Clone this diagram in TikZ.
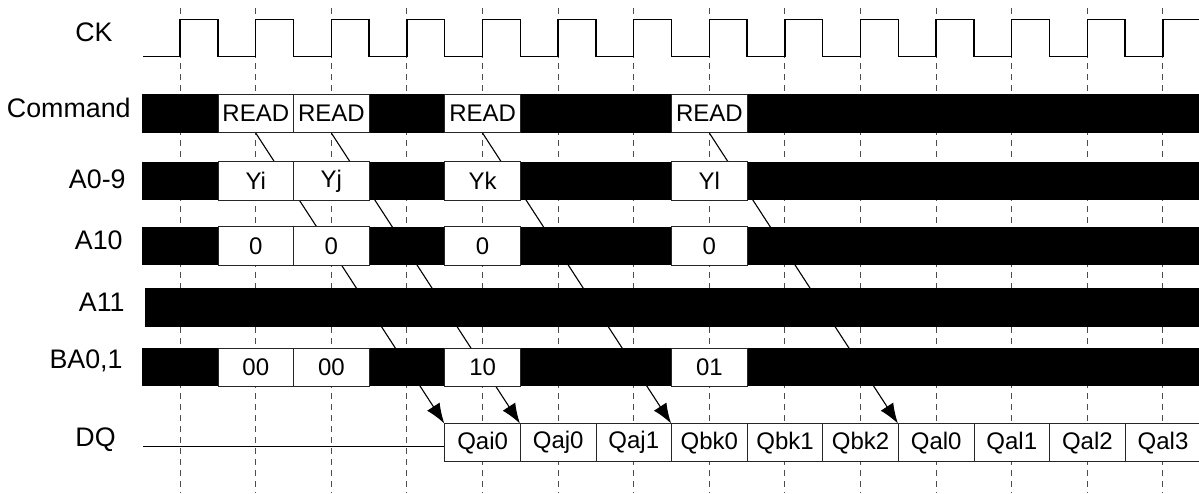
\documentclass[tikz,border=0pt]{standalone}
\usepackage{fontspec}
\setmainfont{Liberation Sans}
\usetikzlibrary{arrows.meta, backgrounds}

\begin{document}
\begin{tikzpicture}[x=0.5pt, y=-0.5pt,
  signame/.style={font=\fontsize{13.4}{15}\selectfont, anchor=base east, inner sep=0pt},
  cell/.style={draw=black!85, fill=white, line width=0.5pt, inner sep=0pt,
               minimum width=37.8pt, minimum height=19.3pt,
               font=\fontsize{12}{14}\selectfont},
  tick/.style={black!70, line width=0.5pt, dash pattern=on 3pt off 2.5pt},
  clk/.style={line width=0.7pt},
  lat/.style={line width=0.55pt, -{Latex[length=10pt,width=7.5pt]}}]

\useasboundingbox (0,0) rectangle (1199,493);

% signal names
\node[signame] (lck)  at (113,41.7)  {CK};
\node[signame] (lcmd) at (131,117.3) {Command};
\node[signame] (la09) at (126,188.3) {A0-9};
\node[signame] (la10) at (123,249.3) {A10};
\node[signame] (la11) at (125,311)   {A11};
\node[signame] (lba)  at (123,368.3) {BA0,1};
\node[signame] (ldq)  at (116,446.7) {DQ};

% clock
\draw[clk] (143,56.7) \foreach \k in {0,...,12}{
    -- ({180+75.6*\k},56.7) -- ({180+75.6*\k},19.3)
    -- ({217.8+75.6*\k},19.3) -- ({217.8+75.6*\k},56.7)}
  -- (1162.8,56.7) -- (1162.8,19.3) -- (1210,19.3);

% buses
\foreach \t/\b in {94/132.7, 161.7/200, 226.7/265.3, 348.3/386.3}
  \fill (142,\t) rectangle (1210,\b);
\fill (144.5,287.7) rectangle (1210,327.3);

% read cycles
\foreach \m/\c/\a/\z/\ba [count=\i] in {0/READ/Yi/0/00, 1/READ/Yj/0/00,
                                        3/READ/Yk/0/10, 6/READ/Yl/0/01}{
  \node[cell] (cmd\i) at ({255.8+75.6*\m},113.3) {\c};
  \node[cell] (adr\i) at ({255.8+75.6*\m},180.8) {\a};
  \node[cell] (aten\i) at ({255.8+75.6*\m},246) {\z};
  \node[cell] (bank\i) at ({255.8+75.6*\m},367.3) {\ba};
}

% data out
\foreach \q [count=\i] in {Qai0,Qaj0,Qaj1,Qbk0,Qbk1,Qbk2,Qal0,Qal1,Qal2,Qal3}
  \node[cell, minimum height=18.75pt] (q\i) at ({255.8+75.6*(\i+2)},442.7) {\q};
\coordinate (dq0) at (143,446.7);
\draw[line width=0.6pt] (dq0) -- (dq0 -| q1.west);

\begin{pgfonlayer}{background}
\foreach \k in {0,...,13}
  \draw[tick] ({180+75.6*\k},8) -- ({180+75.6*\k},493);
%
\draw[lat] (cmd1.south) -- (q1.north west);
\draw[lat] (cmd2.south) -- (q2.north west);
\draw[lat] (cmd3.south) -- (q4.north west);
\draw[lat] (cmd4.south) -- (q7.north west);
\end{pgfonlayer}
\end{tikzpicture}
\end{document}
